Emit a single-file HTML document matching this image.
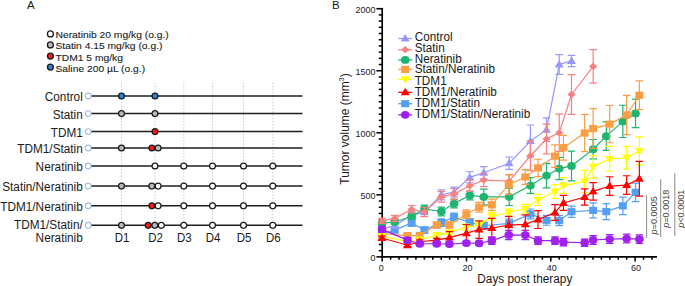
<!DOCTYPE html>
<html><head><meta charset="utf-8"><style>
html,body{margin:0;padding:0;background:#fff;}
body{width:685px;height:286px;overflow:hidden;}
svg{display:block;font-family:"Liberation Sans", sans-serif;}
</style></head><body>
<svg width="685" height="286" viewBox="0 0 685 286" font-family='"Liberation Sans", sans-serif' fill="#1a1a1a">
<rect width="685" height="286" fill="#fff"/>
<text x="27" y="9" font-size="11.5">A</text>
<circle cx="50.4" cy="33.9" r="2.95" fill="#ffffff" stroke="#1a1a1a" stroke-width="1.3"/>
<text transform="translate(55.5,37.5) scale(1.0,0.94)" font-size="10.3" stroke="#1a1a1a" stroke-width="0.1">Neratinib 20 mg/kg (o.g.)</text>
<circle cx="50.4" cy="44.9" r="2.95" fill="#b8b8b8" stroke="#1a1a1a" stroke-width="1.3"/>
<text transform="translate(55.5,48.6) scale(1.0,0.94)" font-size="10.3" stroke="#1a1a1a" stroke-width="0.1">Statin 4.15 mg/kg (o.g.)</text>
<circle cx="50.4" cy="56.1" r="2.95" fill="#ff1414" stroke="#1a1a1a" stroke-width="1.3"/>
<text transform="translate(55.5,60.7) scale(1.0,0.94)" font-size="10.3" stroke="#1a1a1a" stroke-width="0.1">TDM1 5 mg/kg</text>
<circle cx="50.4" cy="67.1" r="2.95" fill="#2d82d2" stroke="#1a1a1a" stroke-width="1.3"/>
<text transform="translate(55.5,72.2) scale(1.0,0.94)" font-size="10.3" stroke="#1a1a1a" stroke-width="0.1">Saline 200 µL (o.g.)</text>
<line x1="121.5" y1="82.5" x2="121.5" y2="231" stroke="#c4c4c4" stroke-width="0.8" stroke-dasharray="1.6,1.6"/>
<line x1="155" y1="82.5" x2="155" y2="231" stroke="#c4c4c4" stroke-width="0.8" stroke-dasharray="1.6,1.6"/>
<line x1="183.8" y1="82.5" x2="183.8" y2="231" stroke="#c4c4c4" stroke-width="0.8" stroke-dasharray="1.6,1.6"/>
<line x1="212.5" y1="82.5" x2="212.5" y2="231" stroke="#c4c4c4" stroke-width="0.8" stroke-dasharray="1.6,1.6"/>
<line x1="243.5" y1="82.5" x2="243.5" y2="231" stroke="#c4c4c4" stroke-width="0.8" stroke-dasharray="1.6,1.6"/>
<line x1="272.8" y1="82.5" x2="272.8" y2="231" stroke="#c4c4c4" stroke-width="0.8" stroke-dasharray="1.6,1.6"/>
<line x1="91" y1="96" x2="302.5" y2="96" stroke="#1e1e1e" stroke-width="1.5"/>
<circle cx="88.2" cy="96" r="2.9" fill="#fff" stroke="#a6bbe2" stroke-width="1.1"/>
<circle cx="121.5" cy="96" r="2.95" fill="#2d82d2" stroke="#1a1a1a" stroke-width="1.25"/>
<circle cx="155" cy="96" r="2.95" fill="#2d82d2" stroke="#1a1a1a" stroke-width="1.25"/>
<text transform="translate(82.8,101.3) scale(1.0,1.11)" font-size="11.8" text-anchor="end">Control</text>
<line x1="91" y1="113.6" x2="302.5" y2="113.6" stroke="#1e1e1e" stroke-width="1.5"/>
<circle cx="88.2" cy="113.6" r="2.9" fill="#fff" stroke="#a6bbe2" stroke-width="1.1"/>
<circle cx="121.5" cy="113.6" r="2.95" fill="#b8b8b8" stroke="#1a1a1a" stroke-width="1.25"/>
<circle cx="155" cy="113.6" r="2.95" fill="#b8b8b8" stroke="#1a1a1a" stroke-width="1.25"/>
<text transform="translate(82.8,118.9) scale(1.0,1.11)" font-size="11.8" text-anchor="end">Statin</text>
<line x1="91" y1="131.6" x2="302.5" y2="131.6" stroke="#1e1e1e" stroke-width="1.5"/>
<circle cx="88.2" cy="131.6" r="2.9" fill="#fff" stroke="#a6bbe2" stroke-width="1.1"/>
<circle cx="155" cy="131.6" r="2.95" fill="#ff1414" stroke="#1a1a1a" stroke-width="1.25"/>
<text transform="translate(82.8,136.9) scale(1.0,1.11)" font-size="11.8" text-anchor="end">TDM1</text>
<line x1="91" y1="148" x2="302.5" y2="148" stroke="#1e1e1e" stroke-width="1.5"/>
<circle cx="88.2" cy="148" r="2.9" fill="#fff" stroke="#a6bbe2" stroke-width="1.1"/>
<circle cx="121.5" cy="148" r="2.95" fill="#b8b8b8" stroke="#1a1a1a" stroke-width="1.25"/>
<circle cx="151.9" cy="148" r="2.95" fill="#ff1414" stroke="#1a1a1a" stroke-width="1.25"/>
<circle cx="158.1" cy="148" r="2.95" fill="#b8b8b8" stroke="#1a1a1a" stroke-width="1.25"/>
<text transform="translate(82.8,153.3) scale(1.0,1.11)" font-size="11.8" text-anchor="end">TDM1/Statin</text>
<line x1="91" y1="166" x2="302.5" y2="166" stroke="#1e1e1e" stroke-width="1.5"/>
<circle cx="88.2" cy="166" r="2.9" fill="#fff" stroke="#a6bbe2" stroke-width="1.1"/>
<circle cx="155" cy="166" r="2.95" fill="#ffffff" stroke="#1a1a1a" stroke-width="1.25"/>
<circle cx="183.8" cy="166" r="2.95" fill="#ffffff" stroke="#1a1a1a" stroke-width="1.25"/>
<circle cx="212.5" cy="166" r="2.95" fill="#ffffff" stroke="#1a1a1a" stroke-width="1.25"/>
<circle cx="243.5" cy="166" r="2.95" fill="#ffffff" stroke="#1a1a1a" stroke-width="1.25"/>
<circle cx="272.8" cy="166" r="2.95" fill="#ffffff" stroke="#1a1a1a" stroke-width="1.25"/>
<text transform="translate(82.8,171.3) scale(1.0,1.11)" font-size="11.8" text-anchor="end">Neratinib</text>
<line x1="91" y1="186.1" x2="302.5" y2="186.1" stroke="#1e1e1e" stroke-width="1.5"/>
<circle cx="88.2" cy="186.1" r="2.9" fill="#fff" stroke="#a6bbe2" stroke-width="1.1"/>
<circle cx="121.5" cy="186.1" r="2.95" fill="#b8b8b8" stroke="#1a1a1a" stroke-width="1.25"/>
<circle cx="151.8" cy="186.1" r="2.95" fill="#b8b8b8" stroke="#1a1a1a" stroke-width="1.25"/>
<circle cx="158.1" cy="186.1" r="2.95" fill="#ffffff" stroke="#1a1a1a" stroke-width="1.25"/>
<circle cx="183.8" cy="186.1" r="2.95" fill="#ffffff" stroke="#1a1a1a" stroke-width="1.25"/>
<circle cx="212.5" cy="186.1" r="2.95" fill="#ffffff" stroke="#1a1a1a" stroke-width="1.25"/>
<circle cx="243.5" cy="186.1" r="2.95" fill="#ffffff" stroke="#1a1a1a" stroke-width="1.25"/>
<circle cx="272.8" cy="186.1" r="2.95" fill="#ffffff" stroke="#1a1a1a" stroke-width="1.25"/>
<text transform="translate(82.8,191.4) scale(1.0,1.11)" font-size="11.8" text-anchor="end">Statin/Neratinib</text>
<line x1="91" y1="205.8" x2="302.5" y2="205.8" stroke="#1e1e1e" stroke-width="1.5"/>
<circle cx="88.2" cy="205.8" r="2.9" fill="#fff" stroke="#a6bbe2" stroke-width="1.1"/>
<circle cx="151.9" cy="205.8" r="2.95" fill="#ff1414" stroke="#1a1a1a" stroke-width="1.25"/>
<circle cx="158.1" cy="205.8" r="2.95" fill="#ffffff" stroke="#1a1a1a" stroke-width="1.25"/>
<circle cx="183.8" cy="205.8" r="2.95" fill="#ffffff" stroke="#1a1a1a" stroke-width="1.25"/>
<circle cx="212.5" cy="205.8" r="2.95" fill="#ffffff" stroke="#1a1a1a" stroke-width="1.25"/>
<circle cx="243.5" cy="205.8" r="2.95" fill="#ffffff" stroke="#1a1a1a" stroke-width="1.25"/>
<circle cx="272.8" cy="205.8" r="2.95" fill="#ffffff" stroke="#1a1a1a" stroke-width="1.25"/>
<text transform="translate(82.8,211.1) scale(1.0,1.11)" font-size="11.8" text-anchor="end">TDM1/Neratinib</text>
<line x1="91" y1="225.3" x2="302.5" y2="225.3" stroke="#1e1e1e" stroke-width="1.5"/>
<circle cx="88.2" cy="225.3" r="2.9" fill="#fff" stroke="#a6bbe2" stroke-width="1.1"/>
<circle cx="121.5" cy="225.3" r="2.95" fill="#b8b8b8" stroke="#1a1a1a" stroke-width="1.25"/>
<circle cx="148.2" cy="225.3" r="2.95" fill="#ff1414" stroke="#1a1a1a" stroke-width="1.25"/>
<circle cx="154.8" cy="225.3" r="2.95" fill="#b8b8b8" stroke="#1a1a1a" stroke-width="1.25"/>
<circle cx="161.3" cy="225.3" r="2.95" fill="#ffffff" stroke="#1a1a1a" stroke-width="1.25"/>
<circle cx="183.8" cy="225.3" r="2.95" fill="#ffffff" stroke="#1a1a1a" stroke-width="1.25"/>
<circle cx="212.5" cy="225.3" r="2.95" fill="#ffffff" stroke="#1a1a1a" stroke-width="1.25"/>
<circle cx="243.5" cy="225.3" r="2.95" fill="#ffffff" stroke="#1a1a1a" stroke-width="1.25"/>
<circle cx="272.8" cy="225.3" r="2.95" fill="#ffffff" stroke="#1a1a1a" stroke-width="1.25"/>
<text transform="translate(82.8,229.3) scale(1.0,1.11)" font-size="11.8" text-anchor="end">TDM1/Statin/</text>
<text transform="translate(82.8,242.2) scale(1.0,1.11)" font-size="11.8" text-anchor="end">Neratinib</text>
<text transform="translate(122.1,241.8) scale(1.0,1.11)" font-size="11.5" text-anchor="middle">D1</text>
<text transform="translate(155.6,241.8) scale(1.0,1.11)" font-size="11.5" text-anchor="middle">D2</text>
<text transform="translate(184.4,241.8) scale(1.0,1.11)" font-size="11.5" text-anchor="middle">D3</text>
<text transform="translate(213.1,241.8) scale(1.0,1.11)" font-size="11.5" text-anchor="middle">D4</text>
<text transform="translate(244.1,241.8) scale(1.0,1.11)" font-size="11.5" text-anchor="middle">D5</text>
<text transform="translate(273.4,241.8) scale(1.0,1.11)" font-size="11.5" text-anchor="middle">D6</text>
<text x="332" y="9" font-size="11.5">B</text>
<line x1="382.2" y1="7.9" x2="382.2" y2="257.7" stroke="#000" stroke-width="1.7"/>
<line x1="381.35" y1="256.9" x2="657.0" y2="256.9" stroke="#000" stroke-width="1.6"/>
<line x1="376.4" y1="256.9" x2="382.2" y2="256.9" stroke="#000" stroke-width="1.55"/>
<text transform="translate(375.4,261.1) scale(1.0,1.08)" font-size="9" text-anchor="end">0</text>
<line x1="378.8" y1="250.69" x2="382.2" y2="250.69" stroke="#000" stroke-width="1.55"/>
<line x1="378.8" y1="244.49" x2="382.2" y2="244.49" stroke="#000" stroke-width="1.55"/>
<line x1="378.8" y1="238.28" x2="382.2" y2="238.28" stroke="#000" stroke-width="1.55"/>
<line x1="378.8" y1="232.08" x2="382.2" y2="232.08" stroke="#000" stroke-width="1.55"/>
<line x1="378.8" y1="225.87" x2="382.2" y2="225.87" stroke="#000" stroke-width="1.55"/>
<line x1="378.8" y1="219.67" x2="382.2" y2="219.67" stroke="#000" stroke-width="1.55"/>
<line x1="378.8" y1="213.46" x2="382.2" y2="213.46" stroke="#000" stroke-width="1.55"/>
<line x1="378.8" y1="207.26" x2="382.2" y2="207.26" stroke="#000" stroke-width="1.55"/>
<line x1="378.8" y1="201.05" x2="382.2" y2="201.05" stroke="#000" stroke-width="1.55"/>
<line x1="376.4" y1="194.85" x2="382.2" y2="194.85" stroke="#000" stroke-width="1.55"/>
<text transform="translate(375.4,199.05) scale(1.0,1.08)" font-size="9" text-anchor="end">500</text>
<line x1="378.8" y1="188.64" x2="382.2" y2="188.64" stroke="#000" stroke-width="1.55"/>
<line x1="378.8" y1="182.44" x2="382.2" y2="182.44" stroke="#000" stroke-width="1.55"/>
<line x1="378.8" y1="176.23" x2="382.2" y2="176.23" stroke="#000" stroke-width="1.55"/>
<line x1="378.8" y1="170.03" x2="382.2" y2="170.03" stroke="#000" stroke-width="1.55"/>
<line x1="378.8" y1="163.82" x2="382.2" y2="163.82" stroke="#000" stroke-width="1.55"/>
<line x1="378.8" y1="157.62" x2="382.2" y2="157.62" stroke="#000" stroke-width="1.55"/>
<line x1="378.8" y1="151.41" x2="382.2" y2="151.41" stroke="#000" stroke-width="1.55"/>
<line x1="378.8" y1="145.21" x2="382.2" y2="145.21" stroke="#000" stroke-width="1.55"/>
<line x1="378.8" y1="139" x2="382.2" y2="139" stroke="#000" stroke-width="1.55"/>
<line x1="376.4" y1="132.8" x2="382.2" y2="132.8" stroke="#000" stroke-width="1.55"/>
<text transform="translate(375.4,137) scale(1.0,1.08)" font-size="9" text-anchor="end">1000</text>
<line x1="378.8" y1="126.59" x2="382.2" y2="126.59" stroke="#000" stroke-width="1.55"/>
<line x1="378.8" y1="120.39" x2="382.2" y2="120.39" stroke="#000" stroke-width="1.55"/>
<line x1="378.8" y1="114.18" x2="382.2" y2="114.18" stroke="#000" stroke-width="1.55"/>
<line x1="378.8" y1="107.98" x2="382.2" y2="107.98" stroke="#000" stroke-width="1.55"/>
<line x1="378.8" y1="101.77" x2="382.2" y2="101.77" stroke="#000" stroke-width="1.55"/>
<line x1="378.8" y1="95.57" x2="382.2" y2="95.57" stroke="#000" stroke-width="1.55"/>
<line x1="378.8" y1="89.36" x2="382.2" y2="89.36" stroke="#000" stroke-width="1.55"/>
<line x1="378.8" y1="83.16" x2="382.2" y2="83.16" stroke="#000" stroke-width="1.55"/>
<line x1="378.8" y1="76.95" x2="382.2" y2="76.95" stroke="#000" stroke-width="1.55"/>
<line x1="376.4" y1="70.75" x2="382.2" y2="70.75" stroke="#000" stroke-width="1.55"/>
<text transform="translate(375.4,74.95) scale(1.0,1.08)" font-size="9" text-anchor="end">1500</text>
<line x1="378.8" y1="64.54" x2="382.2" y2="64.54" stroke="#000" stroke-width="1.55"/>
<line x1="378.8" y1="58.34" x2="382.2" y2="58.34" stroke="#000" stroke-width="1.55"/>
<line x1="378.8" y1="52.13" x2="382.2" y2="52.13" stroke="#000" stroke-width="1.55"/>
<line x1="378.8" y1="45.93" x2="382.2" y2="45.93" stroke="#000" stroke-width="1.55"/>
<line x1="378.8" y1="39.72" x2="382.2" y2="39.72" stroke="#000" stroke-width="1.55"/>
<line x1="378.8" y1="33.52" x2="382.2" y2="33.52" stroke="#000" stroke-width="1.55"/>
<line x1="378.8" y1="27.31" x2="382.2" y2="27.31" stroke="#000" stroke-width="1.55"/>
<line x1="378.8" y1="21.11" x2="382.2" y2="21.11" stroke="#000" stroke-width="1.55"/>
<line x1="378.8" y1="14.9" x2="382.2" y2="14.9" stroke="#000" stroke-width="1.55"/>
<line x1="376.4" y1="8.7" x2="382.2" y2="8.7" stroke="#000" stroke-width="1.55"/>
<text transform="translate(375.4,12.9) scale(1.0,1.08)" font-size="9" text-anchor="end">2000</text>
<line x1="382.2" y1="256.9" x2="382.2" y2="261.5" stroke="#000" stroke-width="1.55"/>
<text transform="translate(381.3,270.9) scale(1.0,1.08)" font-size="9" text-anchor="middle">0</text>
<line x1="390.63" y1="256.9" x2="390.63" y2="259.7" stroke="#000" stroke-width="1.55"/>
<line x1="399.06" y1="256.9" x2="399.06" y2="259.7" stroke="#000" stroke-width="1.55"/>
<line x1="407.49" y1="256.9" x2="407.49" y2="259.7" stroke="#000" stroke-width="1.55"/>
<line x1="415.92" y1="256.9" x2="415.92" y2="259.7" stroke="#000" stroke-width="1.55"/>
<line x1="424.35" y1="256.9" x2="424.35" y2="259.7" stroke="#000" stroke-width="1.55"/>
<line x1="432.78" y1="256.9" x2="432.78" y2="259.7" stroke="#000" stroke-width="1.55"/>
<line x1="441.21" y1="256.9" x2="441.21" y2="259.7" stroke="#000" stroke-width="1.55"/>
<line x1="449.64" y1="256.9" x2="449.64" y2="259.7" stroke="#000" stroke-width="1.55"/>
<line x1="458.07" y1="256.9" x2="458.07" y2="259.7" stroke="#000" stroke-width="1.55"/>
<line x1="466.5" y1="256.9" x2="466.5" y2="261.5" stroke="#000" stroke-width="1.55"/>
<text transform="translate(467.5,270.9) scale(1.0,1.08)" font-size="9" text-anchor="middle">20</text>
<line x1="474.93" y1="256.9" x2="474.93" y2="259.7" stroke="#000" stroke-width="1.55"/>
<line x1="483.36" y1="256.9" x2="483.36" y2="259.7" stroke="#000" stroke-width="1.55"/>
<line x1="491.79" y1="256.9" x2="491.79" y2="259.7" stroke="#000" stroke-width="1.55"/>
<line x1="500.22" y1="256.9" x2="500.22" y2="259.7" stroke="#000" stroke-width="1.55"/>
<line x1="508.65" y1="256.9" x2="508.65" y2="259.7" stroke="#000" stroke-width="1.55"/>
<line x1="517.08" y1="256.9" x2="517.08" y2="259.7" stroke="#000" stroke-width="1.55"/>
<line x1="525.51" y1="256.9" x2="525.51" y2="259.7" stroke="#000" stroke-width="1.55"/>
<line x1="533.94" y1="256.9" x2="533.94" y2="259.7" stroke="#000" stroke-width="1.55"/>
<line x1="542.37" y1="256.9" x2="542.37" y2="259.7" stroke="#000" stroke-width="1.55"/>
<line x1="550.8" y1="256.9" x2="550.8" y2="261.5" stroke="#000" stroke-width="1.55"/>
<text transform="translate(551.8,270.9) scale(1.0,1.08)" font-size="9" text-anchor="middle">40</text>
<line x1="559.23" y1="256.9" x2="559.23" y2="259.7" stroke="#000" stroke-width="1.55"/>
<line x1="567.66" y1="256.9" x2="567.66" y2="259.7" stroke="#000" stroke-width="1.55"/>
<line x1="576.09" y1="256.9" x2="576.09" y2="259.7" stroke="#000" stroke-width="1.55"/>
<line x1="584.52" y1="256.9" x2="584.52" y2="259.7" stroke="#000" stroke-width="1.55"/>
<line x1="592.95" y1="256.9" x2="592.95" y2="259.7" stroke="#000" stroke-width="1.55"/>
<line x1="601.38" y1="256.9" x2="601.38" y2="259.7" stroke="#000" stroke-width="1.55"/>
<line x1="609.81" y1="256.9" x2="609.81" y2="259.7" stroke="#000" stroke-width="1.55"/>
<line x1="618.24" y1="256.9" x2="618.24" y2="259.7" stroke="#000" stroke-width="1.55"/>
<line x1="626.67" y1="256.9" x2="626.67" y2="259.7" stroke="#000" stroke-width="1.55"/>
<line x1="635.1" y1="256.9" x2="635.1" y2="261.5" stroke="#000" stroke-width="1.55"/>
<text transform="translate(636.1,270.9) scale(1.0,1.08)" font-size="9" text-anchor="middle">60</text>
<line x1="643.53" y1="256.9" x2="643.53" y2="259.7" stroke="#000" stroke-width="1.55"/>
<line x1="651.96" y1="256.9" x2="651.96" y2="259.7" stroke="#000" stroke-width="1.55"/>
<text transform="translate(524.8,282.9) scale(1.0,1.07)" font-size="11.8" text-anchor="middle">Days post therapy</text>
<text transform="translate(348.7,129.0) rotate(-90) scale(1,1.06)" font-size="12" text-anchor="middle">Tumor volume (mm<tspan font-size="7" dy="-4">3</tspan><tspan dy="4">)</tspan></text>
<g><polyline points="382,233.94 394.72,230.09 411.68,223.02 424.4,229.97 441.36,222.65 454.08,216.94 469.77,222.4 483.76,225.75 509.2,223.39 530.4,213.96 546.51,220.29 559.23,220.66 571.53,211.73 593.15,210.36 606.3,211.6 622.83,205.89 635.55,192.37" fill="none" stroke="#559ff2" stroke-width="1.2"/><path d="M382 231.46V236.42M378.2 231.46H385.8M378.2 236.42H385.8" stroke="#559ff2" stroke-width="1.2" fill="none"/><rect x="378" y="230.34" width="8" height="7.2" fill="#559ff2"/><path d="M394.72 227.61V232.58M390.92 227.61H398.52M390.92 232.58H398.52" stroke="#559ff2" stroke-width="1.2" fill="none"/><rect x="390.72" y="226.49" width="8" height="7.2" fill="#559ff2"/><path d="M411.68 219.92V226.12M407.88 219.92H415.48M407.88 226.12H415.48" stroke="#559ff2" stroke-width="1.2" fill="none"/><rect x="407.68" y="219.42" width="8" height="7.2" fill="#559ff2"/><path d="M424.4 226.87V233.07M420.6 226.87H428.2M420.6 233.07H428.2" stroke="#559ff2" stroke-width="1.2" fill="none"/><rect x="420.4" y="226.37" width="8" height="7.2" fill="#559ff2"/><path d="M441.36 218.93V226.37M437.56 218.93H445.16M437.56 226.37H445.16" stroke="#559ff2" stroke-width="1.2" fill="none"/><rect x="437.36" y="219.05" width="8" height="7.2" fill="#559ff2"/><path d="M454.08 213.22V220.66M450.28 213.22H457.88M450.28 220.66H457.88" stroke="#559ff2" stroke-width="1.2" fill="none"/><rect x="450.08" y="213.34" width="8" height="7.2" fill="#559ff2"/><path d="M469.77 218.68V226.12M465.97 218.68H473.57M465.97 226.12H473.57" stroke="#559ff2" stroke-width="1.2" fill="none"/><rect x="465.77" y="218.8" width="8" height="7.2" fill="#559ff2"/><path d="M483.76 222.03V229.47M479.96 222.03H487.56M479.96 229.47H487.56" stroke="#559ff2" stroke-width="1.2" fill="none"/><rect x="479.76" y="222.15" width="8" height="7.2" fill="#559ff2"/><path d="M509.2 219.05V227.74M505.4 219.05H513M505.4 227.74H513" stroke="#559ff2" stroke-width="1.2" fill="none"/><rect x="505.2" y="219.79" width="8" height="7.2" fill="#559ff2"/><path d="M530.4 209V218.93M526.6 209H534.2M526.6 218.93H534.2" stroke="#559ff2" stroke-width="1.2" fill="none"/><rect x="526.4" y="210.36" width="8" height="7.2" fill="#559ff2"/><path d="M546.51 215.33V225.25M542.71 215.33H550.31M542.71 225.25H550.31" stroke="#559ff2" stroke-width="1.2" fill="none"/><rect x="542.51" y="216.69" width="8" height="7.2" fill="#559ff2"/><path d="M559.23 215.7V225.63M555.43 215.7H563.03M555.43 225.63H563.03" stroke="#559ff2" stroke-width="1.2" fill="none"/><rect x="555.23" y="217.06" width="8" height="7.2" fill="#559ff2"/><path d="M571.53 206.14V217.31M567.73 206.14H575.33M567.73 217.31H575.33" stroke="#559ff2" stroke-width="1.2" fill="none"/><rect x="567.53" y="208.13" width="8" height="7.2" fill="#559ff2"/><path d="M593.15 202.92V217.81M589.35 202.92H596.95M589.35 217.81H596.95" stroke="#559ff2" stroke-width="1.2" fill="none"/><rect x="589.15" y="206.76" width="8" height="7.2" fill="#559ff2"/><path d="M606.3 203.54V219.67M602.5 203.54H610.1M602.5 219.67H610.1" stroke="#559ff2" stroke-width="1.2" fill="none"/><rect x="602.3" y="208" width="8" height="7.2" fill="#559ff2"/><path d="M622.83 197.21V214.58M619.03 197.21H626.63M619.03 214.58H626.63" stroke="#559ff2" stroke-width="1.2" fill="none"/><rect x="618.83" y="202.29" width="8" height="7.2" fill="#559ff2"/><path d="M635.55 183.06V201.68M631.75 183.06H639.35M631.75 201.68H639.35" stroke="#559ff2" stroke-width="1.2" fill="none"/><rect x="631.55" y="188.77" width="8" height="7.2" fill="#559ff2"/></g>
<g><polyline points="382,228.85 394.72,225.63 411.68,215.33 424.4,211.98 441.36,194.85 454.08,192 469.77,177.35 483.76,172.76 509.2,163.2 530.4,141.11 546.51,129.7 559.23,64.54 571.53,60.95" fill="none" stroke="#9797ff" stroke-width="1.2"/><path d="M382 226.37V231.34M378.2 226.37H385.8M378.2 231.34H385.8" stroke="#9797ff" stroke-width="1.2" fill="none"/><polygon points="382,224.41 377.5,231.81 386.5,231.81" fill="#9797ff"/><path d="M394.72 223.14V228.11M390.92 223.14H398.52M390.92 228.11H398.52" stroke="#9797ff" stroke-width="1.2" fill="none"/><polygon points="394.72,221.19 390.22,228.59 399.22,228.59" fill="#9797ff"/><path d="M411.68 211.6V219.05M407.88 211.6H415.48M407.88 219.05H415.48" stroke="#9797ff" stroke-width="1.2" fill="none"/><polygon points="411.68,210.89 407.18,218.29 416.18,218.29" fill="#9797ff"/><path d="M424.4 207.63V216.32M420.6 207.63H428.2M420.6 216.32H428.2" stroke="#9797ff" stroke-width="1.2" fill="none"/><polygon points="424.4,207.54 419.9,214.94 428.9,214.94" fill="#9797ff"/><path d="M441.36 189.89V199.81M437.56 189.89H445.16M437.56 199.81H445.16" stroke="#9797ff" stroke-width="1.2" fill="none"/><polygon points="441.36,190.41 436.86,197.81 445.86,197.81" fill="#9797ff"/><path d="M454.08 187.03V196.96M450.28 187.03H457.88M450.28 196.96H457.88" stroke="#9797ff" stroke-width="1.2" fill="none"/><polygon points="454.08,187.56 449.58,194.96 458.58,194.96" fill="#9797ff"/><path d="M469.77 171.77V182.94M465.97 171.77H473.57M465.97 182.94H473.57" stroke="#9797ff" stroke-width="1.2" fill="none"/><polygon points="469.77,172.91 465.27,180.31 474.27,180.31" fill="#9797ff"/><path d="M483.76 166.56V178.97M479.96 166.56H487.56M479.96 178.97H487.56" stroke="#9797ff" stroke-width="1.2" fill="none"/><polygon points="483.76,168.32 479.26,175.72 488.26,175.72" fill="#9797ff"/><path d="M509.2 157V169.41M505.4 157H513M505.4 169.41H513" stroke="#9797ff" stroke-width="1.2" fill="none"/><polygon points="509.2,158.76 504.7,166.16 513.7,166.16" fill="#9797ff"/><path d="M530.4 124.98V157.25M526.6 124.98H534.2M526.6 157.25H534.2" stroke="#9797ff" stroke-width="1.2" fill="none"/><polygon points="530.4,136.67 525.9,144.07 534.9,144.07" fill="#9797ff"/><path d="M546.51 117.91V141.49M542.71 117.91H550.31M542.71 141.49H550.31" stroke="#9797ff" stroke-width="1.2" fill="none"/><polygon points="546.51,125.26 542.01,132.66 551.01,132.66" fill="#9797ff"/><path d="M559.23 54.62V74.47M555.43 54.62H563.03M555.43 74.47H563.03" stroke="#9797ff" stroke-width="1.2" fill="none"/><polygon points="559.23,60.1 554.73,67.5 563.73,67.5" fill="#9797ff"/><path d="M571.53 55.36V66.53M567.73 55.36H575.33M567.73 66.53H575.33" stroke="#9797ff" stroke-width="1.2" fill="none"/><polygon points="571.53,56.51 567.03,63.91 576.03,63.91" fill="#9797ff"/></g>
<g><polyline points="382,223.14 394.72,222.03 411.68,216.2 424.4,208.87 441.36,211.48 454.08,203.54 469.77,195.47 483.76,196.96 509.2,196.84 530.4,185.54 546.51,175.61 559.23,168.54 571.53,165.93 593.15,149.18 606.3,136.15 622.83,121.38 635.55,113.44" fill="none" stroke="#1db570" stroke-width="1.2"/><path d="M382 220.66V225.63M378.2 220.66H385.8M378.2 225.63H385.8" stroke="#1db570" stroke-width="1.2" fill="none"/><ellipse cx="382" cy="223.14" rx="4.3" ry="3.9" fill="#1db570"/><path d="M394.72 219.55V224.51M390.92 219.55H398.52M390.92 224.51H398.52" stroke="#1db570" stroke-width="1.2" fill="none"/><ellipse cx="394.72" cy="222.03" rx="4.3" ry="3.9" fill="#1db570"/><path d="M411.68 213.09V219.3M407.88 213.09H415.48M407.88 219.3H415.48" stroke="#1db570" stroke-width="1.2" fill="none"/><ellipse cx="411.68" cy="216.2" rx="4.3" ry="3.9" fill="#1db570"/><path d="M424.4 205.15V212.6M420.6 205.15H428.2M420.6 212.6H428.2" stroke="#1db570" stroke-width="1.2" fill="none"/><ellipse cx="424.4" cy="208.87" rx="4.3" ry="3.9" fill="#1db570"/><path d="M441.36 207.14V215.82M437.56 207.14H445.16M437.56 215.82H445.16" stroke="#1db570" stroke-width="1.2" fill="none"/><ellipse cx="441.36" cy="211.48" rx="4.3" ry="3.9" fill="#1db570"/><path d="M454.08 199.19V207.88M450.28 199.19H457.88M450.28 207.88H457.88" stroke="#1db570" stroke-width="1.2" fill="none"/><ellipse cx="454.08" cy="203.54" rx="4.3" ry="3.9" fill="#1db570"/><path d="M469.77 191.13V199.81M465.97 191.13H473.57M465.97 199.81H473.57" stroke="#1db570" stroke-width="1.2" fill="none"/><ellipse cx="469.77" cy="195.47" rx="4.3" ry="3.9" fill="#1db570"/><path d="M483.76 189.14V204.78M479.96 189.14H487.56M479.96 204.78H487.56" stroke="#1db570" stroke-width="1.2" fill="none"/><ellipse cx="483.76" cy="196.96" rx="4.3" ry="3.9" fill="#1db570"/><path d="M509.2 188.15V205.52M505.4 188.15H513M505.4 205.52H513" stroke="#1db570" stroke-width="1.2" fill="none"/><ellipse cx="509.2" cy="196.84" rx="4.3" ry="3.9" fill="#1db570"/><path d="M530.4 177.72V193.36M526.6 177.72H534.2M526.6 193.36H534.2" stroke="#1db570" stroke-width="1.2" fill="none"/><ellipse cx="530.4" cy="185.54" rx="4.3" ry="3.9" fill="#1db570"/><path d="M546.51 163.45V187.78M542.71 163.45H550.31M542.71 187.78H550.31" stroke="#1db570" stroke-width="1.2" fill="none"/><ellipse cx="546.51" cy="175.61" rx="4.3" ry="3.9" fill="#1db570"/><path d="M559.23 157.37V179.71M555.43 157.37H563.03M555.43 179.71H563.03" stroke="#1db570" stroke-width="1.2" fill="none"/><ellipse cx="559.23" cy="168.54" rx="4.3" ry="3.9" fill="#1db570"/><path d="M571.53 151.04V180.83M567.73 151.04H575.33M567.73 180.83H575.33" stroke="#1db570" stroke-width="1.2" fill="none"/><ellipse cx="571.53" cy="165.93" rx="4.3" ry="3.9" fill="#1db570"/><path d="M593.15 139.5V158.86M589.35 139.5H596.95M589.35 158.86H596.95" stroke="#1db570" stroke-width="1.2" fill="none"/><ellipse cx="593.15" cy="149.18" rx="4.3" ry="3.9" fill="#1db570"/><path d="M606.3 121.88V150.42M602.5 121.88H610.1M602.5 150.42H610.1" stroke="#1db570" stroke-width="1.2" fill="none"/><ellipse cx="606.3" cy="136.15" rx="4.3" ry="3.9" fill="#1db570"/><path d="M622.83 105.25V137.52M619.03 105.25H626.63M619.03 137.52H626.63" stroke="#1db570" stroke-width="1.2" fill="none"/><ellipse cx="622.83" cy="121.38" rx="4.3" ry="3.9" fill="#1db570"/><path d="M635.55 99.17V127.71M631.75 99.17H639.35M631.75 127.71H639.35" stroke="#1db570" stroke-width="1.2" fill="none"/><ellipse cx="635.55" cy="113.44" rx="4.3" ry="3.9" fill="#1db570"/></g>
<g><polyline points="382,220.91 394.72,218.43 411.68,209.25 424.4,211.98 441.36,196.84 454.08,194.11 469.77,185.79 483.76,180.21 509.2,181.07 530.4,155.76 546.51,139 559.23,132.8 571.53,94.45 593.15,66.41" fill="none" stroke="#fa8080" stroke-width="1.2"/><path d="M382 218.43V223.39M378.2 218.43H385.8M378.2 223.39H385.8" stroke="#fa8080" stroke-width="1.2" fill="none"/><polygon points="382,217.31 386.1,220.91 382,224.51 377.9,220.91" fill="#fa8080"/><path d="M394.72 215.33V221.53M390.92 215.33H398.52M390.92 221.53H398.52" stroke="#fa8080" stroke-width="1.2" fill="none"/><polygon points="394.72,214.83 398.82,218.43 394.72,222.03 390.62,218.43" fill="#fa8080"/><path d="M411.68 205.52V212.97M407.88 205.52H415.48M407.88 212.97H415.48" stroke="#fa8080" stroke-width="1.2" fill="none"/><polygon points="411.68,205.65 415.78,209.25 411.68,212.85 407.58,209.25" fill="#fa8080"/><path d="M424.4 207.26V216.69M420.6 207.26H428.2M420.6 216.69H428.2" stroke="#fa8080" stroke-width="1.2" fill="none"/><polygon points="424.4,208.38 428.5,211.98 424.4,215.58 420.3,211.98" fill="#fa8080"/><path d="M441.36 191.62V202.05M437.56 191.62H445.16M437.56 202.05H445.16" stroke="#fa8080" stroke-width="1.2" fill="none"/><polygon points="441.36,193.24 445.46,196.84 441.36,200.44 437.26,196.84" fill="#fa8080"/><path d="M454.08 188.52V199.69M450.28 188.52H457.88M450.28 199.69H457.88" stroke="#fa8080" stroke-width="1.2" fill="none"/><polygon points="454.08,190.51 458.18,194.11 454.08,197.71 449.98,194.11" fill="#fa8080"/><path d="M469.77 180.21V191.38M465.97 180.21H473.57M465.97 191.38H473.57" stroke="#fa8080" stroke-width="1.2" fill="none"/><polygon points="469.77,182.19 473.87,185.79 469.77,189.39 465.67,185.79" fill="#fa8080"/><path d="M483.76 173.75V186.66M479.96 173.75H487.56M479.96 186.66H487.56" stroke="#fa8080" stroke-width="1.2" fill="none"/><polygon points="483.76,176.61 487.86,180.21 483.76,183.81 479.66,180.21" fill="#fa8080"/><path d="M509.2 174.87V187.28M505.4 174.87H513M505.4 187.28H513" stroke="#fa8080" stroke-width="1.2" fill="none"/><polygon points="509.2,177.47 513.3,181.07 509.2,184.67 505.1,181.07" fill="#fa8080"/><path d="M530.4 140.87V170.65M526.6 140.87H534.2M526.6 170.65H534.2" stroke="#fa8080" stroke-width="1.2" fill="none"/><polygon points="530.4,152.16 534.5,155.76 530.4,159.36 526.3,155.76" fill="#fa8080"/><path d="M546.51 124.11V153.9M542.71 124.11H550.31M542.71 153.9H550.31" stroke="#fa8080" stroke-width="1.2" fill="none"/><polygon points="546.51,135.41 550.61,139 546.51,142.6 542.41,139" fill="#fa8080"/><path d="M559.23 114.18V151.41M555.43 114.18H563.03M555.43 151.41H563.03" stroke="#fa8080" stroke-width="1.2" fill="none"/><polygon points="559.23,129.2 563.33,132.8 559.23,136.4 555.13,132.8" fill="#fa8080"/><path d="M571.53 74.6V114.31M567.73 74.6H575.33M567.73 114.31H575.33" stroke="#fa8080" stroke-width="1.2" fill="none"/><polygon points="571.53,90.85 575.63,94.45 571.53,98.05 567.43,94.45" fill="#fa8080"/><path d="M593.15 49.65V83.16M589.35 49.65H596.95M589.35 83.16H596.95" stroke="#fa8080" stroke-width="1.2" fill="none"/><polygon points="593.15,62.81 597.25,66.41 593.15,70.01 589.05,66.41" fill="#fa8080"/></g>
<g><polyline points="382,233.57 407.44,235.68 419.74,235.55 436.7,225.01 449.42,224.88 466.38,214.21 479.1,207.26 491.82,204.78 508.78,184.43 525.31,176.98 538.03,167.92 554.99,156.13 563.47,147.69 584.67,133.05 593.15,128.58 609.69,124.11 626.65,115.05 639.37,95.2" fill="none" stroke="#fb9d43" stroke-width="1.2"/><path d="M382 231.09V236.05M378.2 231.09H385.8M378.2 236.05H385.8" stroke="#fb9d43" stroke-width="1.2" fill="none"/><rect x="378" y="229.97" width="8" height="7.2" fill="#fb9d43"/><path d="M407.44 233.2V238.16M403.64 233.2H411.24M403.64 238.16H411.24" stroke="#fb9d43" stroke-width="1.2" fill="none"/><rect x="403.44" y="232.08" width="8" height="7.2" fill="#fb9d43"/><path d="M419.74 233.07V238.04M415.94 233.07H423.54M415.94 238.04H423.54" stroke="#fb9d43" stroke-width="1.2" fill="none"/><rect x="415.74" y="231.95" width="8" height="7.2" fill="#fb9d43"/><path d="M436.7 221.9V228.11M432.9 221.9H440.5M432.9 228.11H440.5" stroke="#fb9d43" stroke-width="1.2" fill="none"/><rect x="432.7" y="221.41" width="8" height="7.2" fill="#fb9d43"/><path d="M449.42 221.78V227.98M445.62 221.78H453.22M445.62 227.98H453.22" stroke="#fb9d43" stroke-width="1.2" fill="none"/><rect x="445.42" y="221.28" width="8" height="7.2" fill="#fb9d43"/><path d="M466.38 209.87V218.55M462.58 209.87H470.18M462.58 218.55H470.18" stroke="#fb9d43" stroke-width="1.2" fill="none"/><rect x="462.38" y="210.61" width="8" height="7.2" fill="#fb9d43"/><path d="M479.1 202.3V212.22M475.3 202.3H482.9M475.3 212.22H482.9" stroke="#fb9d43" stroke-width="1.2" fill="none"/><rect x="475.1" y="203.66" width="8" height="7.2" fill="#fb9d43"/><path d="M491.82 199.19V210.36M488.02 199.19H495.62M488.02 210.36H495.62" stroke="#fb9d43" stroke-width="1.2" fill="none"/><rect x="487.82" y="201.18" width="8" height="7.2" fill="#fb9d43"/><path d="M508.78 174.5V194.35M504.98 174.5H512.58M504.98 194.35H512.58" stroke="#fb9d43" stroke-width="1.2" fill="none"/><rect x="504.78" y="180.83" width="8" height="7.2" fill="#fb9d43"/><path d="M525.31 169.53V184.43M521.51 169.53H529.11M521.51 184.43H529.11" stroke="#fb9d43" stroke-width="1.2" fill="none"/><rect x="521.31" y="173.38" width="8" height="7.2" fill="#fb9d43"/><path d="M538.03 159.23V176.61M534.23 159.23H541.83M534.23 176.61H541.83" stroke="#fb9d43" stroke-width="1.2" fill="none"/><rect x="534.03" y="164.32" width="8" height="7.2" fill="#fb9d43"/><path d="M554.99 144.96V167.3M551.19 144.96H558.79M551.19 167.3H558.79" stroke="#fb9d43" stroke-width="1.2" fill="none"/><rect x="550.99" y="152.53" width="8" height="7.2" fill="#fb9d43"/><path d="M563.47 135.28V160.1M559.67 135.28H567.27M559.67 160.1H567.27" stroke="#fb9d43" stroke-width="1.2" fill="none"/><rect x="559.47" y="144.09" width="8" height="7.2" fill="#fb9d43"/><path d="M584.67 114.43V151.66M580.87 114.43H588.47M580.87 151.66H588.47" stroke="#fb9d43" stroke-width="1.2" fill="none"/><rect x="580.67" y="129.45" width="8" height="7.2" fill="#fb9d43"/><path d="M593.15 108.72V148.44M589.35 108.72H596.95M589.35 148.44H596.95" stroke="#fb9d43" stroke-width="1.2" fill="none"/><rect x="589.15" y="124.98" width="8" height="7.2" fill="#fb9d43"/><path d="M609.69 105.5V142.73M605.89 105.5H613.49M605.89 142.73H613.49" stroke="#fb9d43" stroke-width="1.2" fill="none"/><rect x="605.69" y="120.51" width="8" height="7.2" fill="#fb9d43"/><path d="M626.65 95.45V134.66M622.85 95.45H630.45M622.85 134.66H630.45" stroke="#fb9d43" stroke-width="1.2" fill="none"/><rect x="622.65" y="111.45" width="8" height="7.2" fill="#fb9d43"/><path d="M639.37 80.8V109.59M635.57 80.8H643.17M635.57 109.59H643.17" stroke="#fb9d43" stroke-width="1.2" fill="none"/><rect x="635.37" y="91.6" width="8" height="7.2" fill="#fb9d43"/></g>
<g><polyline points="382,236.05 407.44,241.76 419.74,239.53 436.7,235.31 449.42,232.45 466.38,227.12 479.1,225.25 491.82,216.2 508.78,212.47 525.31,208.63 538.03,199.94 554.99,191.5 563.47,185.54 584.67,181.45 593.15,166.8 609.69,158.86 626.65,157.74 639.37,150.92" fill="none" stroke="#ffff00" stroke-width="1.2"/><path d="M382 233.57V238.53M378.2 233.57H385.8M378.2 238.53H385.8" stroke="#ffff00" stroke-width="1.2" fill="none"/><polygon points="382,240.49 377.5,233.09 386.5,233.09" fill="#ffff00"/><path d="M407.44 239.9V243.62M403.64 239.9H411.24M403.64 243.62H411.24" stroke="#ffff00" stroke-width="1.2" fill="none"/><polygon points="407.44,246.2 402.94,238.8 411.94,238.8" fill="#ffff00"/><path d="M419.74 237.66V241.39M415.94 237.66H423.54M415.94 241.39H423.54" stroke="#ffff00" stroke-width="1.2" fill="none"/><polygon points="419.74,243.97 415.24,236.57 424.24,236.57" fill="#ffff00"/><path d="M436.7 232.82V237.79M432.9 232.82H440.5M432.9 237.79H440.5" stroke="#ffff00" stroke-width="1.2" fill="none"/><polygon points="436.7,239.75 432.2,232.35 441.2,232.35" fill="#ffff00"/><path d="M449.42 229.97V234.93M445.62 229.97H453.22M445.62 234.93H453.22" stroke="#ffff00" stroke-width="1.2" fill="none"/><polygon points="449.42,236.89 444.92,229.49 453.92,229.49" fill="#ffff00"/><path d="M466.38 224.01V230.22M462.58 224.01H470.18M462.58 230.22H470.18" stroke="#ffff00" stroke-width="1.2" fill="none"/><polygon points="466.38,231.56 461.88,224.16 470.88,224.16" fill="#ffff00"/><path d="M479.1 221.78V228.73M475.3 221.78H482.9M475.3 228.73H482.9" stroke="#ffff00" stroke-width="1.2" fill="none"/><polygon points="479.1,229.69 474.6,222.29 483.6,222.29" fill="#ffff00"/><path d="M491.82 212.47V219.92M488.02 212.47H495.62M488.02 219.92H495.62" stroke="#ffff00" stroke-width="1.2" fill="none"/><polygon points="491.82,220.64 487.32,213.24 496.32,213.24" fill="#ffff00"/><path d="M508.78 208.75V216.2M504.98 208.75H512.58M504.98 216.2H512.58" stroke="#ffff00" stroke-width="1.2" fill="none"/><polygon points="508.78,216.91 504.28,209.51 513.28,209.51" fill="#ffff00"/><path d="M525.31 204.28V212.97M521.51 204.28H529.11M521.51 212.97H529.11" stroke="#ffff00" stroke-width="1.2" fill="none"/><polygon points="525.31,213.07 520.81,205.67 529.81,205.67" fill="#ffff00"/><path d="M538.03 194.35V205.52M534.23 194.35H541.83M534.23 205.52H541.83" stroke="#ffff00" stroke-width="1.2" fill="none"/><polygon points="538.03,204.38 533.53,196.98 542.53,196.98" fill="#ffff00"/><path d="M554.99 184.55V198.45M551.19 184.55H558.79M551.19 198.45H558.79" stroke="#ffff00" stroke-width="1.2" fill="none"/><polygon points="554.99,195.94 550.49,188.54 559.49,188.54" fill="#ffff00"/><path d="M563.47 177.72V193.36M559.67 177.72H567.27M559.67 193.36H567.27" stroke="#ffff00" stroke-width="1.2" fill="none"/><polygon points="563.47,189.98 558.97,182.58 567.97,182.58" fill="#ffff00"/><path d="M584.67 170.28V192.62M580.87 170.28H588.47M580.87 192.62H588.47" stroke="#ffff00" stroke-width="1.2" fill="none"/><polygon points="584.67,185.89 580.17,178.49 589.17,178.49" fill="#ffff00"/><path d="M593.15 155.63V177.97M589.35 155.63H596.95M589.35 177.97H596.95" stroke="#ffff00" stroke-width="1.2" fill="none"/><polygon points="593.15,171.24 588.65,163.84 597.65,163.84" fill="#ffff00"/><path d="M609.69 146.45V171.27M605.89 146.45H613.49M605.89 171.27H613.49" stroke="#ffff00" stroke-width="1.2" fill="none"/><polygon points="609.69,163.3 605.19,155.9 614.19,155.9" fill="#ffff00"/><path d="M626.65 146.33V169.16M622.85 146.33H630.45M622.85 169.16H630.45" stroke="#ffff00" stroke-width="1.2" fill="none"/><polygon points="626.65,162.18 622.15,154.78 631.15,154.78" fill="#ffff00"/><path d="M639.37 136.9V164.94M635.57 136.9H643.17M635.57 164.94H643.17" stroke="#ffff00" stroke-width="1.2" fill="none"/><polygon points="639.37,155.36 634.87,147.96 643.87,147.96" fill="#ffff00"/></g>
<g><polyline points="382,238.04 407.44,245.23 419.74,241.76 436.7,240.15 449.42,237.66 466.38,233.2 479.1,229.6 491.82,227.98 508.78,225.13 525.31,224.39 538.03,219.55 554.99,212.47 563.47,202.92 584.67,196.96 593.15,191.38 609.69,186.04 626.65,185.05 639.37,178.72" fill="none" stroke="#ff0000" stroke-width="1.2"/><path d="M382 236.18V239.9M378.2 236.18H385.8M378.2 239.9H385.8" stroke="#ff0000" stroke-width="1.2" fill="none"/><polygon points="382,233.6 377.5,241 386.5,241" fill="#ff0000"/><path d="M407.44 243.99V246.48M403.64 243.99H411.24M403.64 246.48H411.24" stroke="#ff0000" stroke-width="1.2" fill="none"/><polygon points="407.44,240.79 402.94,248.19 411.94,248.19" fill="#ff0000"/><path d="M419.74 239.9V243.62M415.94 239.9H423.54M415.94 243.62H423.54" stroke="#ff0000" stroke-width="1.2" fill="none"/><polygon points="419.74,237.32 415.24,244.72 424.24,244.72" fill="#ff0000"/><path d="M436.7 238.28V242.01M432.9 238.28H440.5M432.9 242.01H440.5" stroke="#ff0000" stroke-width="1.2" fill="none"/><polygon points="436.7,235.71 432.2,243.11 441.2,243.11" fill="#ff0000"/><path d="M449.42 231.58V243.75M445.62 231.58H453.22M445.62 243.75H453.22" stroke="#ff0000" stroke-width="1.2" fill="none"/><polygon points="449.42,233.22 444.92,240.62 453.92,240.62" fill="#ff0000"/><path d="M466.38 224.51V241.88M462.58 224.51H470.18M462.58 241.88H470.18" stroke="#ff0000" stroke-width="1.2" fill="none"/><polygon points="466.38,228.76 461.88,236.16 470.88,236.16" fill="#ff0000"/><path d="M479.1 220.91V238.28M475.3 220.91H482.9M475.3 238.28H482.9" stroke="#ff0000" stroke-width="1.2" fill="none"/><polygon points="479.1,225.16 474.6,232.56 483.6,232.56" fill="#ff0000"/><path d="M491.82 218.43V237.54M488.02 218.43H495.62M488.02 237.54H495.62" stroke="#ff0000" stroke-width="1.2" fill="none"/><polygon points="491.82,223.54 487.32,230.94 496.32,230.94" fill="#ff0000"/><path d="M508.78 216.44V233.82M504.98 216.44H512.58M504.98 233.82H512.58" stroke="#ff0000" stroke-width="1.2" fill="none"/><polygon points="508.78,220.69 504.28,228.09 513.28,228.09" fill="#ff0000"/><path d="M525.31 214.95V233.82M521.51 214.95H529.11M521.51 233.82H529.11" stroke="#ff0000" stroke-width="1.2" fill="none"/><polygon points="525.31,219.95 520.81,227.35 529.81,227.35" fill="#ff0000"/><path d="M538.03 210.61V228.48M534.23 210.61H541.83M534.23 228.48H541.83" stroke="#ff0000" stroke-width="1.2" fill="none"/><polygon points="538.03,215.11 533.53,222.51 542.53,222.51" fill="#ff0000"/><path d="M554.99 204.65V220.29M551.19 204.65H558.79M551.19 220.29H558.79" stroke="#ff0000" stroke-width="1.2" fill="none"/><polygon points="554.99,208.03 550.49,215.43 559.49,215.43" fill="#ff0000"/><path d="M563.47 195.47V210.36M559.67 195.47H567.27M559.67 210.36H567.27" stroke="#ff0000" stroke-width="1.2" fill="none"/><polygon points="563.47,198.48 558.97,205.88 567.97,205.88" fill="#ff0000"/><path d="M584.67 188.89V205.03M580.87 188.89H588.47M580.87 205.03H588.47" stroke="#ff0000" stroke-width="1.2" fill="none"/><polygon points="584.67,192.52 580.17,199.92 589.17,199.92" fill="#ff0000"/><path d="M593.15 182.69V200.06M589.35 182.69H596.95M589.35 200.06H596.95" stroke="#ff0000" stroke-width="1.2" fill="none"/><polygon points="593.15,186.94 588.65,194.34 597.65,194.34" fill="#ff0000"/><path d="M609.69 176.73V195.35M605.89 176.73H613.49M605.89 195.35H613.49" stroke="#ff0000" stroke-width="1.2" fill="none"/><polygon points="609.69,181.6 605.19,189 614.19,189" fill="#ff0000"/><path d="M626.65 175.74V194.35M622.85 175.74H630.45M622.85 194.35H630.45" stroke="#ff0000" stroke-width="1.2" fill="none"/><polygon points="626.65,180.61 622.15,188.01 631.15,188.01" fill="#ff0000"/><path d="M639.37 161.34V196.09M635.57 161.34H643.17M635.57 196.09H643.17" stroke="#ff0000" stroke-width="1.2" fill="none"/><polygon points="639.37,174.28 634.87,181.68 643.87,181.68" fill="#ff0000"/></g>
<g><polyline points="382,229.35 407.44,240.15 419.74,243.75 436.7,243.75 449.42,243.99 466.38,243.12 479.1,243.25 491.82,240.64 508.78,234.93 525.31,235.06 538.03,240.64 554.99,240.64 563.47,242.13 584.67,242.75 593.15,240.02 609.69,239.03 626.65,238.53 639.37,239.15" fill="none" stroke="#a020f0" stroke-width="1.2"/><path d="M382 226.25V232.45M378.2 226.25H385.8M378.2 232.45H385.8" stroke="#a020f0" stroke-width="1.2" fill="none"/><ellipse cx="382" cy="229.35" rx="4.3" ry="3.9" fill="#a020f0"/><path d="M407.44 237.66V242.63M403.64 237.66H411.24M403.64 242.63H411.24" stroke="#a020f0" stroke-width="1.2" fill="none"/><ellipse cx="407.44" cy="240.15" rx="4.3" ry="3.9" fill="#a020f0"/><path d="M419.74 241.88V245.61M415.94 241.88H423.54M415.94 245.61H423.54" stroke="#a020f0" stroke-width="1.2" fill="none"/><ellipse cx="419.74" cy="243.75" rx="4.3" ry="3.9" fill="#a020f0"/><path d="M436.7 241.88V245.61M432.9 241.88H440.5M432.9 245.61H440.5" stroke="#a020f0" stroke-width="1.2" fill="none"/><ellipse cx="436.7" cy="243.75" rx="4.3" ry="3.9" fill="#a020f0"/><path d="M449.42 242.13V245.86M445.62 242.13H453.22M445.62 245.86H453.22" stroke="#a020f0" stroke-width="1.2" fill="none"/><ellipse cx="449.42" cy="243.99" rx="4.3" ry="3.9" fill="#a020f0"/><path d="M466.38 241.26V244.99M462.58 241.26H470.18M462.58 244.99H470.18" stroke="#a020f0" stroke-width="1.2" fill="none"/><ellipse cx="466.38" cy="243.12" rx="4.3" ry="3.9" fill="#a020f0"/><path d="M479.1 241.39V245.11M475.3 241.39H482.9M475.3 245.11H482.9" stroke="#a020f0" stroke-width="1.2" fill="none"/><ellipse cx="479.1" cy="243.25" rx="4.3" ry="3.9" fill="#a020f0"/><path d="M491.82 236.92V244.37M488.02 236.92H495.62M488.02 244.37H495.62" stroke="#a020f0" stroke-width="1.2" fill="none"/><ellipse cx="491.82" cy="240.64" rx="4.3" ry="3.9" fill="#a020f0"/><path d="M508.78 230.34V239.53M504.98 230.34H512.58M504.98 239.53H512.58" stroke="#a020f0" stroke-width="1.2" fill="none"/><ellipse cx="508.78" cy="234.93" rx="4.3" ry="3.9" fill="#a020f0"/><path d="M525.31 230.47V239.65M521.51 230.47H529.11M521.51 239.65H529.11" stroke="#a020f0" stroke-width="1.2" fill="none"/><ellipse cx="525.31" cy="235.06" rx="4.3" ry="3.9" fill="#a020f0"/><path d="M538.03 236.92V244.37M534.23 236.92H541.83M534.23 244.37H541.83" stroke="#a020f0" stroke-width="1.2" fill="none"/><ellipse cx="538.03" cy="240.64" rx="4.3" ry="3.9" fill="#a020f0"/><path d="M554.99 236.92V244.37M551.19 236.92H558.79M551.19 244.37H558.79" stroke="#a020f0" stroke-width="1.2" fill="none"/><ellipse cx="554.99" cy="240.64" rx="4.3" ry="3.9" fill="#a020f0"/><path d="M563.47 238.41V245.86M559.67 238.41H567.27M559.67 245.86H567.27" stroke="#a020f0" stroke-width="1.2" fill="none"/><ellipse cx="563.47" cy="242.13" rx="4.3" ry="3.9" fill="#a020f0"/><path d="M584.67 239.03V246.48M580.87 239.03H588.47M580.87 246.48H588.47" stroke="#a020f0" stroke-width="1.2" fill="none"/><ellipse cx="584.67" cy="242.75" rx="4.3" ry="3.9" fill="#a020f0"/><path d="M593.15 235.68V244.37M589.35 235.68H596.95M589.35 244.37H596.95" stroke="#a020f0" stroke-width="1.2" fill="none"/><ellipse cx="593.15" cy="240.02" rx="4.3" ry="3.9" fill="#a020f0"/><path d="M609.69 234.69V243.37M605.89 234.69H613.49M605.89 243.37H613.49" stroke="#a020f0" stroke-width="1.2" fill="none"/><ellipse cx="609.69" cy="239.03" rx="4.3" ry="3.9" fill="#a020f0"/><path d="M626.65 234.19V242.88M622.85 234.19H630.45M622.85 242.88H630.45" stroke="#a020f0" stroke-width="1.2" fill="none"/><ellipse cx="626.65" cy="238.53" rx="4.3" ry="3.9" fill="#a020f0"/><path d="M639.37 234.81V243.5M635.57 234.81H643.17M635.57 243.5H643.17" stroke="#a020f0" stroke-width="1.2" fill="none"/><ellipse cx="639.37" cy="239.15" rx="4.3" ry="3.9" fill="#a020f0"/></g>
<line x1="398.2" y1="38.5" x2="412.2" y2="38.5" stroke="#9797ff" stroke-width="1.3"/>
<polygon points="405.2,34.06 400.7,41.46 409.7,41.46" fill="#9797ff"/>
<text transform="translate(414.7,40.7) scale(1.0,1.08)" font-size="11.75">Control</text>
<line x1="398.2" y1="49.7" x2="412.2" y2="49.7" stroke="#fa8080" stroke-width="1.3"/>
<polygon points="405.2,46.1 409.3,49.7 405.2,53.3 401.1,49.7" fill="#fa8080"/>
<text transform="translate(414.7,51.7) scale(1.0,1.08)" font-size="11.75">Statin</text>
<line x1="398.2" y1="59.9" x2="412.2" y2="59.9" stroke="#1db570" stroke-width="1.3"/>
<ellipse cx="405.2" cy="59.9" rx="4.3" ry="3.9" fill="#1db570"/>
<text transform="translate(414.7,62.5) scale(1.0,1.08)" font-size="11.75">Neratinib</text>
<line x1="398.2" y1="69.4" x2="412.2" y2="69.4" stroke="#fb9d43" stroke-width="1.3"/>
<rect x="401.2" y="65.8" width="8" height="7.2" fill="#fb9d43"/>
<text transform="translate(414.7,73.3) scale(1.0,1.08)" font-size="11.75">Statin/Neratinib</text>
<line x1="398.2" y1="79.3" x2="412.2" y2="79.3" stroke="#ffff00" stroke-width="1.3"/>
<polygon points="405.2,83.74 400.7,76.34 409.7,76.34" fill="#ffff00"/>
<text transform="translate(414.7,85.1) scale(1.0,1.08)" font-size="11.75">TDM1</text>
<line x1="398.2" y1="92.3" x2="412.2" y2="92.3" stroke="#ff0000" stroke-width="1.3"/>
<polygon points="405.2,87.86 400.7,95.26 409.7,95.26" fill="#ff0000"/>
<text transform="translate(414.7,95.8) scale(1.0,1.08)" font-size="11.75">TDM1/Neratinib</text>
<line x1="398.2" y1="103.7" x2="412.2" y2="103.7" stroke="#559ff2" stroke-width="1.3"/>
<rect x="401.2" y="100.1" width="8" height="7.2" fill="#559ff2"/>
<text transform="translate(414.7,107) scale(1.0,1.08)" font-size="11.75">TDM1/Statin</text>
<line x1="398.2" y1="114.8" x2="412.2" y2="114.8" stroke="#a020f0" stroke-width="1.3"/>
<ellipse cx="405.2" cy="114.8" rx="4.3" ry="3.9" fill="#a020f0"/>
<text transform="translate(414.7,117.7) scale(1.0,1.08)" font-size="11.75">TDM1/Statin/Neratinib</text>
<line x1="646.6" y1="195" x2="646.6" y2="238" stroke="#8a8a8a" stroke-width="1"/>
<text transform="translate(657.4,234.4) rotate(-90)" font-size="9.1" fill="#444"><tspan font-style="italic">p</tspan>=0.0005</text>
<line x1="660.7" y1="179.3" x2="660.7" y2="237" stroke="#8a8a8a" stroke-width="1"/>
<text transform="translate(668.8,227.8) rotate(-90)" font-size="9.1" fill="#444"><tspan font-style="italic">p</tspan>=0.0018</text>
<line x1="674.8" y1="173.2" x2="674.8" y2="236.2" stroke="#8a8a8a" stroke-width="1"/>
<text transform="translate(683.7,227.8) rotate(-90)" font-size="9.1" fill="#444"><tspan font-style="italic">p</tspan>&lt;0.0001</text>
</svg>
</body></html>
